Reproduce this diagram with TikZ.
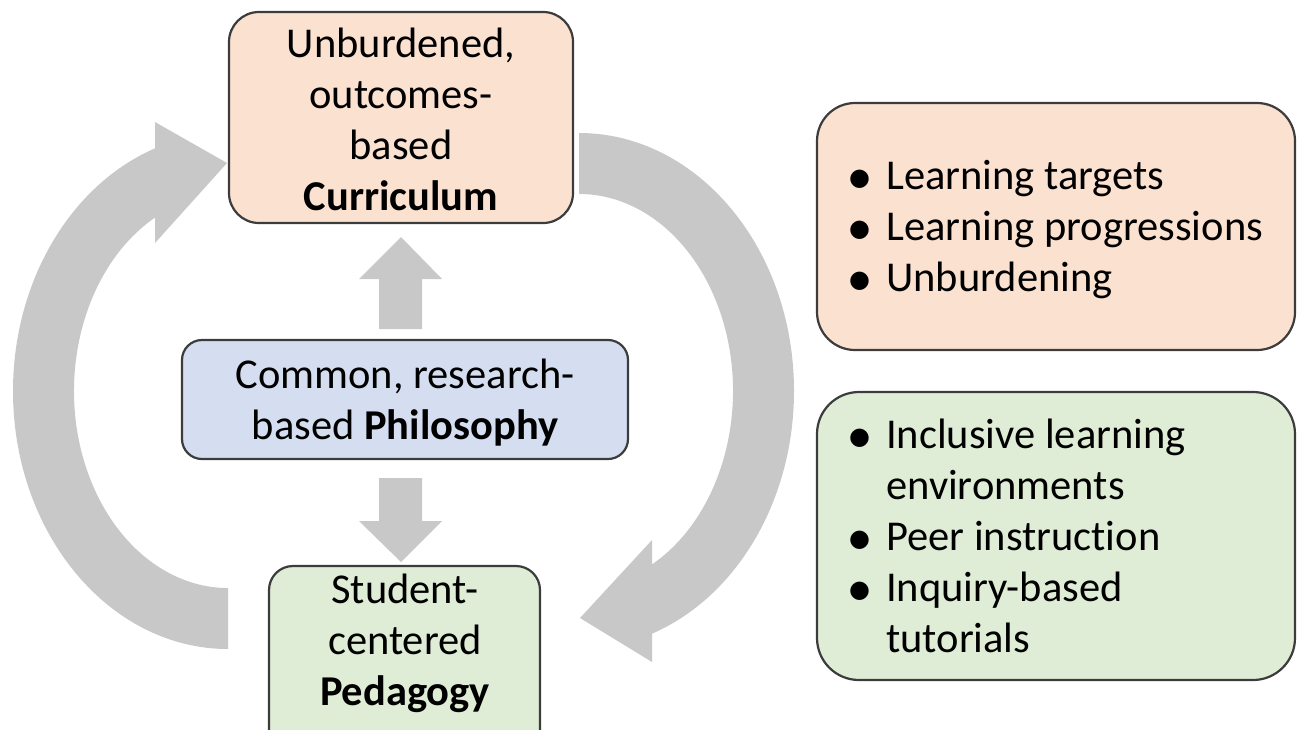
\documentclass[tikz,border=0pt]{standalone}
\usepackage{fontspec}
\setmainfont{Carlito}[Ligatures=NoCommon]
\newfontfamily\bulletfont{DejaVu Sans}
\definecolor{arrowgray}{HTML}{C8C8C8}
\definecolor{bordergray}{HTML}{3C3C3C}
\definecolor{orangefill}{HTML}{FBE1D0}
\definecolor{bluefill}{HTML}{D4DEF0}
\definecolor{greenfill}{HTML}{DFECD6}
\newcommand{\mybul}{\makebox[37pt][l]{\raisebox{4pt}{\fontsize{24pt}{24pt}\bulletfont\char"25CF}}}
\begin{document}
\begin{tikzpicture}[x=1pt,y=1pt,
  box/.style={draw=bordergray, line width=2.2pt, rounded corners=#1, inner sep=0pt, rectangle},
  box/.default=24pt,
  txt/.style={font=\fontsize{42.5pt}{51pt}\selectfont, inner sep=0pt, text=black},
  bigarrow/.style={fill=arrowgray, draw=none}
]
\useasboundingbox (0,0) rectangle (1297,-729);
\clip (0,0) rectangle (1297,-729);

% circular arrows
\fill[bigarrow] (228,-649) arc[start angle=270, end angle=109.85, x radius=215, y radius=258]
  -- (155,-122) -- (227,-163) -- (155,-243) -- (155,-217.6)
  arc[start angle=118.3, end angle=270, x radius=154, y radius=197] -- cycle;
\fill[bigarrow] (579,-133) arc[start angle=90, end angle=-70.15, x radius=215, y radius=258]
  -- (652,-662) -- (580,-618) -- (652,-540) -- (652,-564.4)
  arc[start angle=-61.7, end angle=90, x radius=154, y radius=197] -- cycle;

% boxes
\node[box=30pt, fill=orangefill, minimum width=344pt, minimum height=211pt] (cur) at (401,-117.5) {};
\node[box=20pt, fill=bluefill, minimum width=446pt, minimum height=119pt] (phil) at (405,-399.5) {};
\node[box=24pt, fill=greenfill, minimum width=271pt, minimum height=194pt] (ped) at (404.5,-663) {};
\node[box=38pt, fill=orangefill, minimum width=478pt, minimum height=247pt] (curlist) at (1056,-226.5) {};
\node[box=42pt, fill=greenfill, minimum width=478pt, minimum height=288pt] (pedlist) at (1056,-536) {};

% straight block arrows
\fill[bigarrow] (379,-329) -- (379,-279) -- (359,-279) -- (401,-237) -- (442,-279) -- (422,-279) -- (422,-329) -- cycle;
\fill[bigarrow] (379,-478) -- (379,-521) -- (359,-521) -- (401,-562) -- (442,-521) -- (422,-521) -- (422,-478) -- cycle;

% texts
\node[txt, anchor=base] (curtext) at (401,-57) {\begin{tabular}[t]{@{}c@{}}Unburdened,\\outcomes-\\based\\\textbf{Curriculum}\end{tabular}};
\node[txt, anchor=base] (philtext) at (405,-388) {\begin{tabular}[t]{@{}c@{}}Common, research-\\based \textbf{Philosophy}\end{tabular}};
\node[txt, anchor=base] (pedtext) at (405,-603) {\begin{tabular}[t]{@{}c@{}}Student-\\centered\\\textbf{Pedagogy}\end{tabular}};
\node[txt, anchor=base west] (curlisttext) at (849,-189) {\begin{tabular}[t]{@{}l@{}}\mybul Learning targets\\\mybul Learning progressions\\\mybul Unburdening\end{tabular}};
\node[txt, anchor=base west] (pedlisttext) at (849,-448) {\begin{tabular}[t]{@{}l@{}}\mybul Inclusive learning\\\hspace*{37pt}environments\\\mybul Peer instruction\\\mybul Inquiry-based\\\hspace*{37pt}tutorials\end{tabular}};
\end{tikzpicture}
\end{document}
